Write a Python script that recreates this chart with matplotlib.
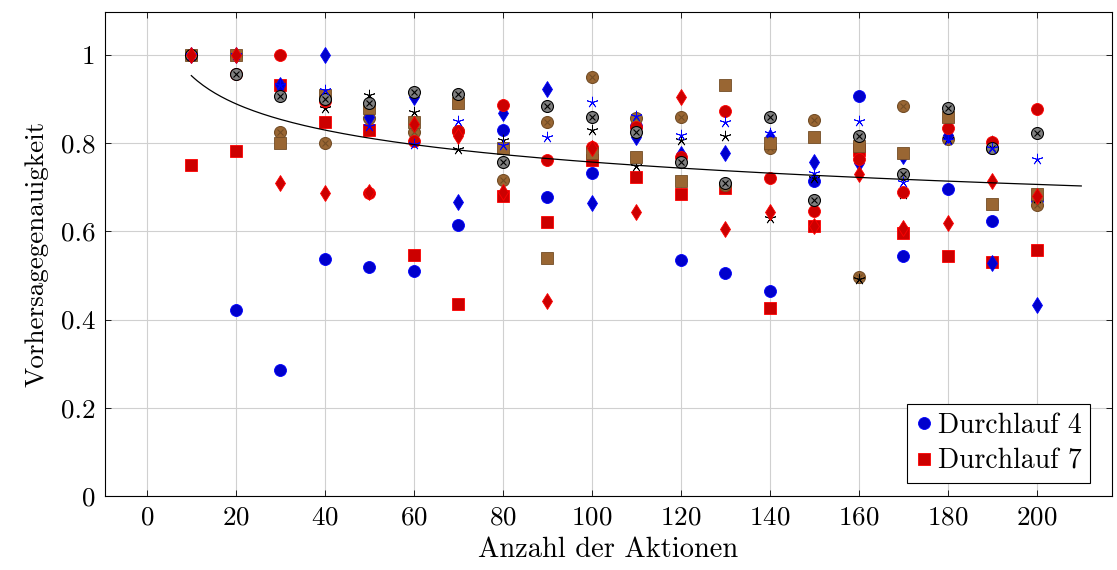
import numpy as np
import matplotlib
matplotlib.use("Agg")
import matplotlib.pyplot as plt

plt.rcParams["font.family"] = "serif"
plt.rcParams["font.serif"] = ["cmr10", "DejaVu Serif"]
plt.rcParams["mathtext.fontset"] = "cm"
plt.rcParams["axes.formatter.use_mathtext"] = True

actions = [10, 20, 30, 40, 50, 60, 70, 80, 90, 100,
           110, 120, 130, 140, 150, 160, 170, 180, 190, 200]

# Vorhersagegenauigkeit je Durchlauf
blue_circle = [1.0, 0.422, 0.286, 0.537, 0.52, 0.51, 0.614, 0.831, 0.679, 0.733,
               0.84, 0.535, 0.505, 0.465, 0.714, 0.907, 0.545, 0.695, 0.623, 0.672]
red_square = [0.75, 0.782, 0.933, 0.847, 0.83, 0.546, 0.435, 0.681, 0.622, 0.762,
              0.724, 0.685, 0.699, 0.427, 0.613, 0.785, 0.596, 0.544, 0.53, 0.558]
brown_otimes = [1.0, 1.0, 0.825, 0.80, 0.858, 0.826, 0.828, 0.717, 0.848, 0.949,
                0.858, 0.859, 0.705, 0.788, 0.853, 0.497, 0.884, 0.81, 0.79, 0.66]
black_star = [1.0, 1.0, 0.907, 0.88, 0.909, 0.871, 0.786, 0.807, 0.885, 0.831,
              0.748, 0.807, 0.816, 0.63, 0.72, 0.492, 0.685, 0.81, 0.806, 0.675]
blue_diamond = [1.0, 1.0, 0.933, 1.0, 0.86, 0.905, 0.667, 0.868, 0.923, 0.664,
                0.815, 0.775, 0.778, 0.815, 0.758, 0.755, 0.77, 0.818, 0.529, 0.433]
red_circle = [1.0, 0.957, 1.0, 0.895, 0.686, 0.806, 0.828, 0.886, 0.762, 0.792,
              0.836, 0.768, 0.874, 0.722, 0.647, 0.763, 0.69, 0.835, 0.803, 0.877]
brown_square = [1.0, 1.0, 0.80, 0.91, 0.879, 0.849, 0.892, 0.79, 0.539, 0.777,
                0.769, 0.715, 0.932, 0.80, 0.815, 0.794, 0.777, 0.859, 0.661, 0.684]
gray_otimes = [1.0, 0.957, 0.907, 0.90, 0.892, 0.915, 0.912, 0.757, 0.885, 0.859,
               0.826, 0.758, 0.709, 0.86, 0.671, 0.817, 0.729, 0.879, 0.788, 0.822]
blue_star = [1.0, 1.0, 0.933, 0.92, 0.84, 0.798, 0.85, 0.796, 0.813, 0.894,
             0.862, 0.819, 0.849, 0.824, 0.732, 0.85, 0.713, 0.807, 0.79, 0.764]
red_diamond = [1.0, 1.0, 0.71, 0.688, 0.69, 0.843, 0.816, 0.69, 0.443, 0.788,
               0.645, 0.905, 0.605, 0.645, 0.613, 0.73, 0.607, 0.62, 0.715, 0.68]

# Trendkurve a * x^b
trend_a = 1.2
trend_b = -0.1
trend_range = (10, 210)

BLUE, BLUE_F = "#0000ff", "#0000cc"
RED, RED_F = "#ff0000", "#cc0000"
BROWN, BROWN_F = "#734d26", "#996633"

fig = plt.figure(figsize=(11.17, 5.70), dpi=100)
ax = fig.add_axes([0.094, 0.1298, 0.9015, 0.8492])

ms = 8.6
ew = 0.6


def otimes(y, face, edge):
    ax.plot(actions, y, ls="none", marker="o", ms=ms, mfc=face, mec=edge, mew=0.8)
    ax.plot(actions, y, ls="none", marker="x", ms=ms * 0.55, mec=edge, mew=0.8)


h4, = ax.plot(actions, blue_circle, ls="none", marker="o", ms=ms, mfc=BLUE_F, mec=BLUE,
              mew=ew, label="Durchlauf 4")
h7, = ax.plot(actions, red_square, ls="none", marker="s", ms=ms, mfc=RED_F, mec=RED,
              mew=ew, label="Durchlauf 7")
otimes(brown_otimes, BROWN_F, BROWN)
ax.plot(actions, black_star, ls="none", marker=(5, 2, 0), ms=ms * 0.95, mec="black", mew=0.6)
ax.plot(actions, blue_diamond, ls="none", marker="d", ms=ms * 0.95, mfc=BLUE_F, mec=BLUE, mew=ew)
ax.plot(actions, red_circle, ls="none", marker="o", ms=ms, mfc=RED_F, mec=RED, mew=ew)
ax.plot(actions, brown_square, ls="none", marker="s", ms=ms, mfc=BROWN_F, mec=BROWN, mew=ew)
otimes(gray_otimes, "#808080", "black")
ax.plot(actions, blue_star, ls="none", marker=(5, 2, 0), ms=ms * 0.95, mec=BLUE, mew=0.6)
ax.plot(actions, red_diamond, ls="none", marker="d", ms=ms * 0.95, mfc=RED_F, mec=RED, mew=ew)

xs = np.linspace(trend_range[0], trend_range[1], 300)
ax.plot(xs, trend_a * xs ** trend_b, color="black", lw=0.9)

ax.set_xlim(-9.4, 216.9)
ax.set_ylim(0, 1.0975)
ax.set_xticks(range(0, 201, 20))
ax.set_yticks([0, 0.2, 0.4, 0.6, 0.8, 1.0])
ax.set_yticklabels(["0", "0.2", "0.4", "0.6", "0.8", "1"])
ax.tick_params(direction="in", length=4, width=0.6, top=True, right=True,
               labelsize=19.5, pad=7)
ax.grid(True, color="#d0d0d0", lw=0.8)
ax.set_axisbelow(True)
for s in ax.spines.values():
    s.set_linewidth(0.8)

ax.set_xlabel("Anzahl der Aktionen", fontsize=20.5, labelpad=5)
ax.set_ylabel("Vorhersagegenauigkeit", fontsize=19.5, labelpad=9)

leg = ax.legend(handles=[h4, h7], loc="lower right", fontsize=20, fancybox=False,
                edgecolor="black", framealpha=1, handlelength=0.6, handletextpad=0.2,
                borderpad=0.3, labelspacing=0.35, borderaxespad=0.0,
                bbox_to_anchor=(0.978, 0.027))
leg.get_frame().set_linewidth(0.8)

fig.savefig("out.png", dpi=100)
